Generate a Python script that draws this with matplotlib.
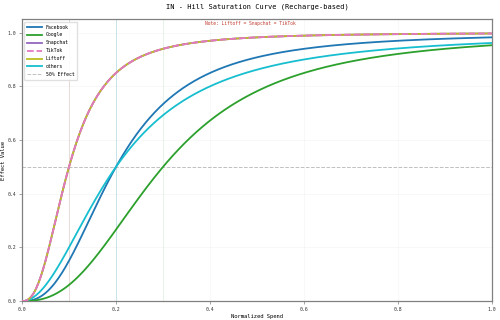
import matplotlib
matplotlib.use('Agg')
import matplotlib.pyplot as plt
import numpy as np

# Hill parameters (half-saturation point k, slope n)
channels = ['Facebook', 'Google', 'Snapchat', 'TikTok', 'Liftoff', 'others']
half_sat = [0.2, 0.3, 0.1, 0.1, 0.1, 0.2]
slopes = [2.5, 2.5, 2.5, 2.5, 2.5, 2.0]
colors = ['#1f77b4', '#2ca02c', '#9467bd', '#e377c2', '#bcbd22', '#17becf']
styles = ['-', '-', '-', '--', '-', '-']

x_ticks = [0.0, 0.2, 0.4, 0.6, 0.8, 1.0]
y_ticks = [0.0, 0.2, 0.4, 0.6, 0.8, 1.0]

plt.rcParams['font.family'] = ['DejaVu Sans Mono']

fig = plt.figure(figsize=(5, 3.2), dpi=100)
ax = fig.add_axes([0.044, 0.059, 0.940, 0.881])

spend = np.linspace(0, 1, 400)
z = {'Facebook': 3, 'Google': 3, 'Snapchat': 3, 'TikTok': 5, 'Liftoff': 4, 'others': 3}
for name, k, n, c, ls in zip(channels, half_sat, slopes, colors, styles):
    effect = spend ** n / (spend ** n + k ** n)
    ax.plot(spend, effect, color=c, linestyle=ls, linewidth=1.3, label=name, zorder=z[name])
    ax.axvline(k, color=c, alpha=0.12, linewidth=0.7, zorder=1)

ax.axhline(0.5, color='gray', linestyle='--', alpha=0.5, linewidth=0.7, label='50% Effect')

ax.set_xlim(0, 1)
ax.set_ylim(0, 1.05)
ax.set_xticks(x_ticks)
ax.set_yticks(y_ticks)
ax.tick_params(labelsize=3.5, length=2, width=0.5, color='gray', labelcolor='#333333', pad=2)
ax.grid(True, alpha=0.12, linewidth=0.5)
for s in ax.spines.values():
    s.set_color('gray')
    s.set_linewidth(0.9)

ax.set_xlabel('Normalized Spend', fontsize=4, labelpad=2)
ax.set_ylabel('Effect Value', fontsize=4, labelpad=1)
ax.set_title('IN - Hill Saturation Curve (Recharge-based)', fontsize=5, pad=8)
ax.text(0.486, 0.995, 'Note: Liftoff = Snapchat = TikTok', transform=ax.transAxes,
        ha='center', va='top', fontsize=3.3, color='#c0392b')

ax.legend(loc='upper left', fontsize=3.5, framealpha=0.9, borderpad=0.6,
          handlelength=3, labelspacing=0.6, edgecolor='#dddddd')

plt.savefig('out.png', dpi=100)
plt.close()
